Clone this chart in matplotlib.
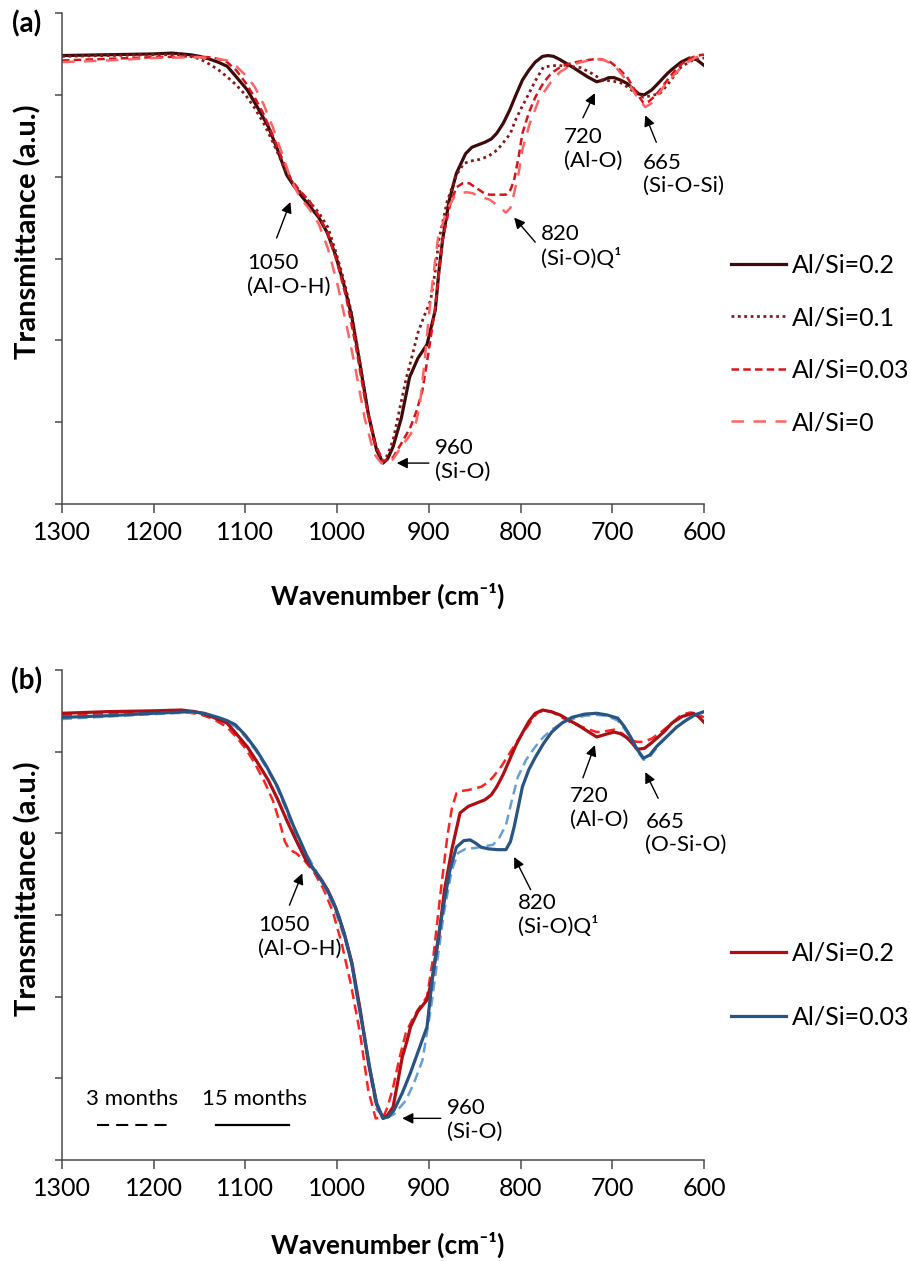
import matplotlib
matplotlib.use("Agg")
import matplotlib.pyplot as plt
import numpy as np

plt.rcParams['font.family'] = ['Lato', 'DejaVu Sans']

# ---- (a) spectra for different Al/Si ratios ----
wn_a02 = [1300, 1250, 1200, 1180, 1160, 1150, 1140, 1130, 1120, 1110, 1098, 1087, 1075, 1065, 1055, 1048,
          1040, 1030, 1020, 1011, 1002, 993, 984, 975, 966, 957, 950, 945, 939, 930, 921, 912, 902, 893,
          889, 885, 878, 870, 860, 853, 846, 839, 832, 826, 819, 812, 805, 798, 791, 784, 776, 770, 764,
          757, 748, 738, 727, 717, 710, 704, 698, 691, 684, 678, 671, 665, 657, 650, 645, 640, 635, 625,
          616, 608, 600]
tr_a02 = [5.48, 5.49, 5.50, 5.51, 5.49, 5.47, 5.44, 5.40, 5.35, 5.22, 5.06, 4.85, 4.61, 4.33, 4.02, 3.90,
          3.78, 3.64, 3.50, 3.32, 3.05, 2.70, 2.29, 1.70, 1.10, 0.66, 0.50, 0.55, 0.70, 1.05, 1.55, 1.78,
          1.95, 2.37, 2.85, 3.23, 3.70, 4.04, 4.28, 4.36, 4.39, 4.42, 4.46, 4.53, 4.65, 4.81, 5.00, 5.18,
          5.30, 5.40, 5.47, 5.48, 5.47, 5.43, 5.37, 5.30, 5.22, 5.16, 5.18, 5.21, 5.21, 5.18, 5.14, 5.08,
          5.01, 5.00, 5.06, 5.14, 5.20, 5.26, 5.31, 5.40, 5.45, 5.43, 5.36]

wn_a01 = [1300, 1250, 1200, 1170, 1160, 1150, 1140, 1130, 1120, 1110, 1100, 1090, 1080, 1070, 1060, 1050,
          1040, 1030, 1020, 1010, 1002, 993, 984, 975, 966, 957, 950, 945, 939, 932, 925, 918, 912, 905,
          898, 893, 889, 880, 870, 862, 855, 845, 835, 825, 815, 811, 806, 800, 793, 784, 775, 761, 748,
          734, 722, 711, 700, 689, 678, 666, 657, 648, 640, 632, 625, 615, 602, 600]
tr_a01 = [5.47, 5.48, 5.49, 5.49, 5.47, 5.44, 5.38, 5.31, 5.22, 5.12, 5.00, 4.84, 4.65, 4.42, 4.17, 3.95,
          3.81, 3.69, 3.56, 3.38, 3.10, 2.75, 2.32, 1.72, 1.10, 0.66, 0.52, 0.60, 0.78, 1.15, 1.52, 1.82,
          2.09, 2.30, 2.49, 2.85, 3.23, 3.70, 4.02, 4.16, 4.19, 4.21, 4.25, 4.33, 4.47, 4.53, 4.68, 4.82,
          4.97, 5.17, 5.34, 5.36, 5.35, 5.33, 5.26, 5.18, 5.17, 5.14, 5.05, 4.97, 4.99, 5.02, 5.12, 5.24,
          5.34, 5.41, 5.45, 5.45]

wn_a003 = [1300, 1250, 1200, 1160, 1140, 1130, 1120, 1110, 1100, 1090, 1080, 1070, 1060, 1050, 1040, 1030,
           1020, 1010, 1000, 990, 980, 970, 960, 950, 939, 930, 920, 913, 907, 900, 893, 885, 877, 870,
           863, 856, 848, 840, 834, 825, 816, 811, 807, 802, 798, 791, 784, 775, 766, 755, 744, 730, 717,
           710, 702, 693, 684, 675, 666, 660, 654, 648, 640, 630, 620, 610, 602, 600]
tr_a003 = [5.42, 5.44, 5.46, 5.47, 5.46, 5.44, 5.40, 5.30, 5.15, 4.97, 4.76, 4.50, 4.22, 3.96, 3.82, 3.70,
           3.52, 3.30, 2.95, 2.52, 1.95, 1.30, 0.78, 0.52, 0.57, 0.74, 0.94, 1.15, 1.39, 1.88, 2.41, 3.23,
           3.65, 3.87, 3.92, 3.92, 3.86, 3.80, 3.78, 3.78, 3.78, 3.84, 3.96, 4.25, 4.53, 4.78, 4.97, 5.15,
           5.27, 5.35, 5.39, 5.42, 5.44, 5.43, 5.40, 5.32, 5.22, 5.05, 4.90, 4.92, 4.98, 5.06, 5.18, 5.32,
           5.42, 5.47, 5.49, 5.49]

wn_a0 = [1300, 1250, 1200, 1150, 1130, 1120, 1110, 1100, 1090, 1080, 1070, 1060, 1050, 1040, 1030, 1020,
         1010, 1000, 990, 980, 970, 960, 952, 946, 939, 930, 920, 915, 910, 905, 900, 895, 890, 880, 872,
         866, 859, 853, 845, 834, 825, 816, 811, 807, 802, 798, 790, 780, 768, 757, 745, 734, 717, 708,
         698, 689, 680, 672, 664, 657, 650, 644, 632, 621, 610, 602, 600]
tr_a0 = [5.40, 5.42, 5.45, 5.46, 5.44, 5.42, 5.35, 5.24, 5.10, 4.88, 4.60, 4.28, 3.95, 3.74, 3.60, 3.42,
         3.12, 2.70, 2.20, 1.65, 1.05, 0.62, 0.50, 0.50, 0.55, 0.70, 0.85, 0.95, 1.20, 1.70, 2.30, 2.80,
         3.25, 3.60, 3.76, 3.80, 3.81, 3.80, 3.76, 3.72, 3.65, 3.56, 3.62, 3.80, 4.05, 4.33, 4.65, 4.94,
         5.14, 5.28, 5.36, 5.40, 5.44, 5.42, 5.36, 5.24, 5.10, 4.96, 4.85, 4.90, 5.00, 5.10, 5.25, 5.38,
         5.45, 5.49, 5.49]

# ---- (b) ageing: 3 months (dashed) vs 15 months (solid) ----
wn_b02_15 = [1300, 1250, 1200, 1170, 1155, 1147, 1135, 1120, 1110, 1098, 1087, 1075, 1065, 1055, 1045,
             1034, 1025, 1017, 1010, 1002, 993, 984, 975, 966, 957, 950, 945, 939, 934, 929, 924, 920,
             912, 902, 896, 889, 883, 875, 866, 857, 848, 839, 832, 826, 819, 812, 805, 798, 791, 784,
             776, 767, 757, 748, 738, 727, 717, 708, 698, 691, 684, 678, 673, 665, 657, 650, 643, 635,
             624, 612, 606, 600]
tr_b02_15 = [5.47, 5.49, 5.50, 5.51, 5.49, 5.47, 5.42, 5.35, 5.22, 5.06, 4.87, 4.65, 4.42, 4.16, 3.92,
             3.67, 3.55, 3.43, 3.30, 3.10, 2.80, 2.42, 1.85, 1.20, 0.68, 0.51, 0.55, 0.65, 0.95, 1.26,
             1.45, 1.63, 1.82, 1.96, 2.24, 2.75, 3.30, 3.80, 4.25, 4.33, 4.37, 4.41, 4.47, 4.57, 4.72,
             4.90, 5.08, 5.23, 5.37, 5.47, 5.51, 5.49, 5.45, 5.39, 5.33, 5.25, 5.18, 5.21, 5.24, 5.22,
             5.17, 5.10, 5.03, 5.04, 5.11, 5.18, 5.25, 5.35, 5.43, 5.47, 5.43, 5.36]

wn_b02_3 = [1300, 1250, 1200, 1170, 1150, 1135, 1120, 1110, 1100, 1090, 1080, 1070, 1063, 1057, 1052,
            1045, 1035, 1025, 1015, 1005, 995, 985, 975, 966, 958, 950, 945, 939, 932, 925, 918, 912,
            902, 895, 888, 880, 875, 870, 864, 857, 850, 843, 836, 830, 821, 812, 803, 793, 786, 780,
            773, 766, 755, 744, 730, 717, 708, 698, 689, 680, 673, 666, 657, 648, 637, 625, 615, 607, 600]
tr_b02_3 = [5.45, 5.47, 5.49, 5.49, 5.46, 5.40, 5.30, 5.18, 5.04, 4.86, 4.65, 4.40, 4.15, 3.90, 3.80,
            3.76, 3.66, 3.52, 3.32, 3.05, 2.65, 2.15, 1.55, 0.85, 0.51, 0.52, 0.65, 0.89, 1.25, 1.56,
            1.72, 1.84, 2.00, 2.50, 3.20, 3.95, 4.30, 4.49, 4.52, 4.53, 4.55, 4.57, 4.62, 4.69, 4.82,
            4.98, 5.14, 5.30, 5.42, 5.49, 5.50, 5.49, 5.42, 5.35, 5.29, 5.24, 5.25, 5.27, 5.22, 5.14,
            5.12, 5.12, 5.16, 5.23, 5.33, 5.45, 5.48, 5.46, 5.42]

wn_b003_15 = [1300, 1250, 1200, 1160, 1145, 1130, 1120, 1111, 1100, 1088, 1077, 1065, 1056, 1048, 1038,
              1029, 1020, 1011, 1004, 998, 991, 984, 978, 971, 964, 957, 950, 944, 938, 929, 920, 911,
              902, 896, 889, 883, 877, 870, 862, 855, 849, 843, 835, 825, 816, 811, 807, 802, 798, 791,
              784, 775, 766, 755, 744, 730, 717, 706, 694, 687, 680, 673, 666, 659, 652, 641, 630, 620,
              610, 600]
tr_b003_15 = [5.42, 5.44, 5.47, 5.49, 5.47, 5.42, 5.38, 5.33, 5.20, 5.02, 4.82, 4.57, 4.33, 4.10, 3.85,
              3.62, 3.47, 3.31, 3.15, 2.98, 2.72, 2.40, 2.00, 1.56, 1.10, 0.70, 0.51, 0.53, 0.61, 0.82,
              1.07, 1.35, 1.63, 2.24, 2.78, 3.18, 3.55, 3.83, 3.91, 3.92, 3.88, 3.83, 3.81, 3.80, 3.80,
              3.90, 4.08, 4.35, 4.57, 4.78, 4.93, 5.10, 5.24, 5.35, 5.42, 5.46, 5.47, 5.45, 5.41, 5.31,
              5.18, 5.03, 4.92, 4.96, 5.06, 5.18, 5.30, 5.38, 5.45, 5.49]

wn_b003_3 = [1300, 1250, 1200, 1160, 1145, 1130, 1120, 1110, 1100, 1088, 1077, 1065, 1056, 1048, 1040,
             1030, 1020, 1010, 1000, 991, 984, 978, 971, 964, 957, 948, 938, 925, 916, 907, 898, 890,
             884, 875, 868, 860, 850, 840, 830, 823, 816, 810, 803, 794, 784, 775, 766, 755, 744, 730,
             717, 706, 694, 684, 675, 666, 659, 648, 637, 625, 612, 600]
tr_b003_3 = [5.40, 5.43, 5.46, 5.48, 5.46, 5.41, 5.36, 5.30, 5.18, 5.00, 4.80, 4.55, 4.30, 4.05, 3.85,
             3.68, 3.48, 3.26, 2.98, 2.68, 2.40, 2.00, 1.55, 1.05, 0.62, 0.51, 0.56, 0.73, 0.95, 1.22,
             1.84, 2.50, 3.00, 3.55, 3.76, 3.81, 3.82, 3.84, 3.86, 3.95, 4.10, 4.38, 4.69, 4.90, 5.06,
             5.18, 5.27, 5.35, 5.40, 5.44, 5.45, 5.44, 5.38, 5.24, 5.05, 4.90, 4.94, 5.10, 5.22, 5.35,
             5.44, 5.49]

xticks = [1300, 1200, 1100, 1000, 900, 800, 700, 600]

W, H = 910, 1261
AX = '#4a4a4a'
ANN = 16
LEG = 18


def fx(px):
    return px / W


def fy(py):
    return 1 - py / H


def style_axes(ax):
    ax.set_xlim(1300, 600)
    ax.set_ylim(0, 6)
    ax.set_xticks(xticks)
    ax.set_xticklabels([str(t) for t in xticks], fontsize=18)
    ax.set_yticks(np.arange(0, 7))
    ax.set_yticklabels([])
    for s in ['top', 'right']:
        ax.spines[s].set_visible(False)
    for s in ['left', 'bottom']:
        ax.spines[s].set_color(AX)
        ax.spines[s].set_linewidth(1.1)
    ax.tick_params(axis='x', direction='out', length=6.5, width=1.1, color=AX, pad=6)
    ax.tick_params(axis='y', direction='out', length=5, width=1.1, color=AX)


def arrow(ax, head, tail):
    ax.annotate('', xy=head, xytext=tail,
                arrowprops=dict(arrowstyle='-|>', color='black', lw=1.0,
                                mutation_scale=16, shrinkA=0, shrinkB=0))


def label(ax, x, y, txt):
    ax.text(x, y, txt, fontsize=ANN, ha='left', va='center', linespacing=1.2)


fig = plt.figure(figsize=(W / 100, H / 100), dpi=100)
ax1 = fig.add_axes([fx(62), fy(504), (704 - 62) / W, (504 - 13) / H])
ax2 = fig.add_axes([fx(62), fy(1160), (704 - 62) / W, (1160 - 670) / H])

# ---- panel (a) ----
l1, = ax1.plot(wn_a02, tr_a02, color='#3d0b0b', lw=2.3, label='Al/Si=0.2')
l2, = ax1.plot(wn_a01, tr_a01, color='#8a1818', lw=2.0, ls=(0, (1, 1.3)), label='Al/Si=0.1')
l3, = ax1.plot(wn_a003, tr_a003, color='#d8141a', lw=1.8, ls=(0, (3, 1.7)), label='Al/Si=0.03')
l4, = ax1.plot(wn_a0, tr_a0, color='#ff6464', lw=1.8, ls=(0, (5, 3.8)), label='Al/Si=0')
style_axes(ax1)

arrow(ax1, (1051, 3.69), (1066, 3.25))
label(ax1, 1098, 2.80, '1050\n(Al-O-H)')
arrow(ax1, (935, 0.50), (900, 0.50))
label(ax1, 893, 0.54, '960\n(Si-O)')
arrow(ax1, (807, 3.50), (784, 3.20))
label(ax1, 778, 3.15, '820\n(Si-O)Q¹')
arrow(ax1, (719, 5.02), (732, 4.72))
label(ax1, 753, 4.34, '720\n(Al-O)')
arrow(ax1, (664, 4.75), (652, 4.42))
label(ax1, 667, 4.03, '665\n(Si-O-Si)')

ax1.legend(handles=[l1, l2, l3, l4], loc='center left',
           bbox_to_anchor=(fx(731), fy(344)), bbox_transform=fig.transFigure,
           frameon=False, fontsize=LEG, handlelength=2.2, handletextpad=0.22,
           labelspacing=1.18, borderpad=0, borderaxespad=0)

# ---- panel (b) ----
m1, = ax2.plot(wn_b02_15, tr_b02_15, color='#ad0f14', lw=2.3, label='Al/Si=0.2', zorder=3)
m2, = ax2.plot(wn_b02_3, tr_b02_3, color='#ff2020', lw=1.8, ls=(0, (4, 2.2)), zorder=2)
m3, = ax2.plot(wn_b003_15, tr_b003_15, color='#285583', lw=2.3, label='Al/Si=0.03', zorder=3)
m4, = ax2.plot(wn_b003_3, tr_b003_3, color='#6a9fd6', lw=1.8, ls=(0, (4, 2.2)), zorder=2)
style_axes(ax2)

arrow(ax2, (1038, 3.51), (1052, 3.12))
label(ax2, 1086, 2.73, '1050\n(Al-O-H)')
arrow(ax2, (929, 0.51), (887, 0.51))
label(ax2, 880, 0.49, '960\n(Si-O)')
arrow(ax2, (807, 3.71), (789, 3.31))
label(ax2, 803, 3.00, '820\n(Si-O)Q¹')
arrow(ax2, (719, 5.08), (732, 4.68))
label(ax2, 746, 4.31, '720\n(Al-O)')
arrow(ax2, (664, 4.75), (650, 4.43))
label(ax2, 664, 4.00, '665\n(O-Si-O)')

# storage-time key
ax2.plot([0.055, 0.165], [0.072, 0.072], transform=ax2.transAxes, color='black', lw=1.5,
         ls=(0, (5.8, 3.4)))
ax2.plot([0.240, 0.354], [0.072, 0.072], transform=ax2.transAxes, color='black', lw=1.6)
ax2.text(0.109, 0.124, '3 months', transform=ax2.transAxes, fontsize=ANN, ha='center', va='center')
ax2.text(0.300, 0.124, '15 months', transform=ax2.transAxes, fontsize=ANN, ha='center', va='center')

ax2.legend(handles=[m1, m3], loc='center left',
           bbox_to_anchor=(fx(731), fy(985)), bbox_transform=fig.transFigure,
           frameon=False, fontsize=LEG, handlelength=2.2, handletextpad=0.22,
           labelspacing=1.64, borderpad=0, borderaxespad=0)

# axis titles and panel tags
for yc, xc, tag, ty in [(232, 596, '(a)', 24), (889, 1245, '(b)', 681)]:
    fig.text(fx(28), fy(yc), 'Transmittance (a.u.)', rotation=90, fontsize=21,
             fontweight='bold', ha='center', va='center')
    fig.text(fx(388), fy(xc), 'Wavenumber (cm⁻¹)', fontsize=19, fontweight='bold',
             ha='center', va='center')
    fig.text(fx(27), fy(ty), tag, fontsize=20, fontweight='bold', ha='center', va='center')

fig.savefig('out.png', dpi=100, facecolor='white')
